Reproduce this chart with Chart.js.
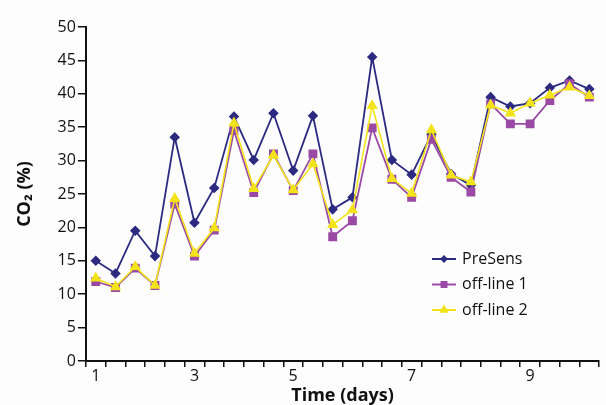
<!DOCTYPE html>
<html>
<head>
<meta charset="utf-8">
<script src="https://cdn.jsdelivr.net/npm/chart.js@4/dist/chart.umd.min.js"></script>
<style>
  html, body { margin: 0; padding: 0; background: #fdfdfd; }
  #wrap { width: 606px; height: 405px; }
</style>
</head>
<body>
<div id="wrap"><canvas id="co2" width="606" height="405"></canvas></div>
<script>
// sample labels (only some days are labelled on the axis)
var days = ['1','','','','','3','','','','','5','','','','','','7','','','','','','9','','',''];

var presens  = [15.0, 13.1, 19.5, 15.7, 33.5, 20.7, 25.9, 36.6, 30.1, 37.1, 28.5, 36.7, 22.7,
                24.5, 45.5, 30.1, 27.9, 33.9, 28.0, 26.3, 39.5, 38.1, 38.6, 40.9, 42.0, 40.7];
var offline1 = [11.9, 11.0, 13.9, 11.3, 23.5, 15.7, 19.6, 34.5, 25.2, 31.0, 25.5, 31.0, 18.6,
                21.0, 34.9, 27.2, 24.5, 33.2, 27.5, 25.3, 38.5, 35.5, 35.5, 39.0, 41.5, 39.5];
var offline2 = [12.4, 11.1, 14.1, 11.3, 24.3, 16.1, 19.9, 35.6, 25.8, 30.8, 25.6, 29.5, 20.4,
                22.6, 38.2, 27.3, 25.1, 34.6, 27.8, 26.8, 38.3, 37.1, 38.6, 39.8, 41.0, 39.7];

var FONT = "'Open Sans', 'DejaVu Sans', sans-serif";
var navy = '#2c2b80', purple = '#9a4aa5', yellow = '#f2e31a';

// legend drawn inside the plot, lower right
var insideLegend = {
    id: 'insideLegend',
    afterDraw: function(chart) {
        var c = chart.ctx;
        var x0 = 432, y0 = 259, gap = 25.5;
        chart.data.datasets.forEach(function(ds, i) {
            var y = y0 + i * gap;
            c.save();
            c.strokeStyle = ds.borderColor;
            c.lineWidth = 2;
            c.beginPath();
            c.moveTo(x0, y);
            c.lineTo(x0 + 24, y);
            c.stroke();
            c.fillStyle = ds.pointBackgroundColor;
            c.strokeStyle = ds.pointBackgroundColor;
            Chart.helpers.drawPoint(c, {pointStyle: ds.pointStyle, radius: ds.pointRadius - 1.5, borderWidth: 1}, x0 + 12, y);
            c.fillStyle = '#111';
            c.font = '16px ' + FONT;
            c.textBaseline = 'middle';
            c.fillText(ds.label, x0 + 30, y);
            c.restore();
        });
    }
};

new Chart(document.getElementById('co2'), {
    type: 'line',
    data: {
        labels: days,
        datasets: [
            {
                label: 'PreSens',
                data: presens,
                borderColor: navy,
                backgroundColor: navy,
                pointBackgroundColor: navy,
                pointBorderColor: navy,
                pointStyle: 'rectRot',
                pointRadius: 4,
                borderWidth: 1.8,
                order: 3
            },
            {
                label: 'off-line 1',
                data: offline1,
                borderColor: purple,
                backgroundColor: purple,
                pointBackgroundColor: purple,
                pointBorderColor: purple,
                pointStyle: 'rect',
                pointRadius: 5,
                borderWidth: 1.8,
                order: 2
            },
            {
                label: 'off-line 2',
                data: offline2,
                borderColor: yellow,
                backgroundColor: yellow,
                pointBackgroundColor: yellow,
                pointBorderColor: yellow,
                pointStyle: 'triangle',
                pointRadius: 5,
                borderWidth: 1.6,
                order: 1
            }
        ]
    },
    options: {
        responsive: false,
        animation: { duration: 0 },
        layout: { padding: { top: 27, right: 3, bottom: 0, left: 14 } },
        plugins: {
            legend: { display: false },
            tooltip: { enabled: false }
        },
        scales: {
            x: {
                offset: true,
                border: { color: '#111', width: 2 },
                grid: {
                    offset: true,
                    drawOnChartArea: false,
                    drawTicks: true,
                    tickLength: 6,
                    color: '#111',
                    lineWidth: 1.5
                },
                ticks: {
                    autoSkip: false,
                    maxRotation: 0,
                    padding: 1,
                    color: '#111',
                    font: { family: FONT, size: 16, lineHeight: 1.0 }
                },
                title: {
                    display: true,
                    text: 'Time (days)',
                    color: '#111',
                    padding: { top: 2, bottom: 0 },
                    font: { family: FONT, size: 18, weight: 'bold', lineHeight: 1.0 }
                }
            },
            y: {
                min: 0,
                max: 50,
                border: { color: '#111', width: 2 },
                grid: {
                    drawOnChartArea: false,
                    drawTicks: true,
                    tickLength: 8,
                    color: '#111',
                    lineWidth: 1.5
                },
                ticks: {
                    stepSize: 5,
                    padding: 2,
                    color: '#111',
                    font: { family: FONT, size: 16 }
                },
                title: {
                    display: true,
                    text: 'CO\u2082 (%)',
                    color: '#111',
                    padding: { top: 0, bottom: 20 },
                    font: { family: FONT, size: 18, weight: 'bold' }
                }
            }
        }
    },
    plugins: [insideLegend]
});
</script>
</body>
</html>
